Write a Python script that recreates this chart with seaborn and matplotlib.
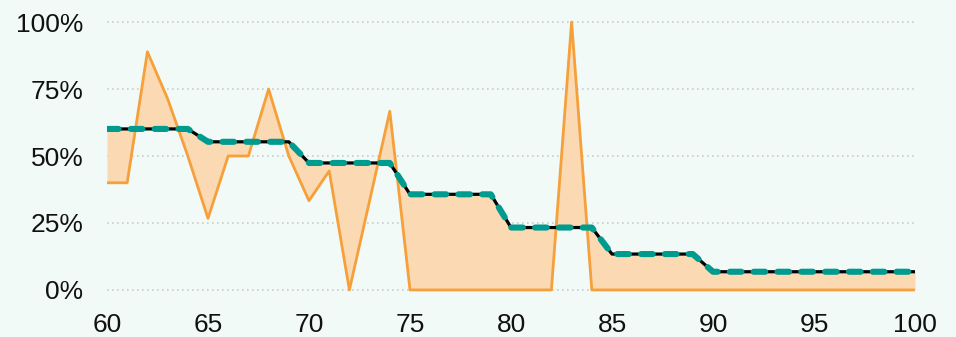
import numpy as np
import pandas as pd
import matplotlib
matplotlib.use("Agg")
import matplotlib.pyplot as plt
import seaborn as sns

# %%
# data
ages = list(range(60, 101))
observed = [40, 40, 88.9, 71.4, 50, 26.7, 50, 50, 75, 50,
            33.3, 44.4, 0, 33.3, 66.7, 0, 0, 0, 0, 0,
            0, 0, 0, 100, 0] + [0] * 16
smoothed = [60.1] * 5 + [55.3] * 5 + [47.4] * 5 + [35.7] * 5 + [23.3] * 5 + [13.4] * 5 + [6.8] * 11

df = pd.DataFrame({"age": ages, "observed": np.array(observed) / 100,
                   "smoothed": np.array(smoothed) / 100})

# %%
sns.set_style("white")
plt.rcParams["font.family"] = ["Liberation Sans", "DejaVu Sans"]

bg = "#F2FAF8"
fig = plt.figure(figsize=(9.56, 3.37), dpi=100, facecolor=bg)
ax = fig.add_axes([107 / 956, 39 / 337, 808 / 956, 284 / 337], facecolor=bg)

# shaded gap between observed and smoothed
ax.fill_between(df["age"], df["smoothed"], df["observed"], color="#FBD9B2", linewidth=0, zorder=1)
sns.lineplot(data=df, x="age", y="observed", color="#F5A03A", linewidth=2.0, ax=ax, zorder=2)
sns.lineplot(data=df, x="age", y="smoothed", color="black", linewidth=2.3, ax=ax, zorder=3)
sns.lineplot(data=df, x="age", y="smoothed", color="#009B8F", linewidth=4.4, ax=ax, zorder=4)
line = ax.lines[-1]
line.set_dashes((1.9, 2.0))
line.set_dash_capstyle("round")

ax.set_xlim(60, 100)
ax.set_ylim(-0.03, 1.03)
ax.set_xticks(range(60, 101, 5))
ax.set_yticks([0, 0.25, 0.5, 0.75, 1.0])
ax.set_yticklabels(["0%", "25%", "50%", "75%", "100%"])
ax.set_xlabel("")
ax.set_ylabel("")
ax.tick_params(axis="both", length=0, labelsize=19, colors="#111111")
ax.tick_params(axis="x", pad=11)
ax.tick_params(axis="y", pad=17)
ax.yaxis.grid(True, color="#C8CCCB", linestyle=(0, (1, 2)), linewidth=1.2)
ax.xaxis.grid(False)
ax.set_axisbelow(True)
sns.despine(ax=ax, left=True, bottom=True)

plt.savefig("out.png", dpi=100, facecolor=bg)
